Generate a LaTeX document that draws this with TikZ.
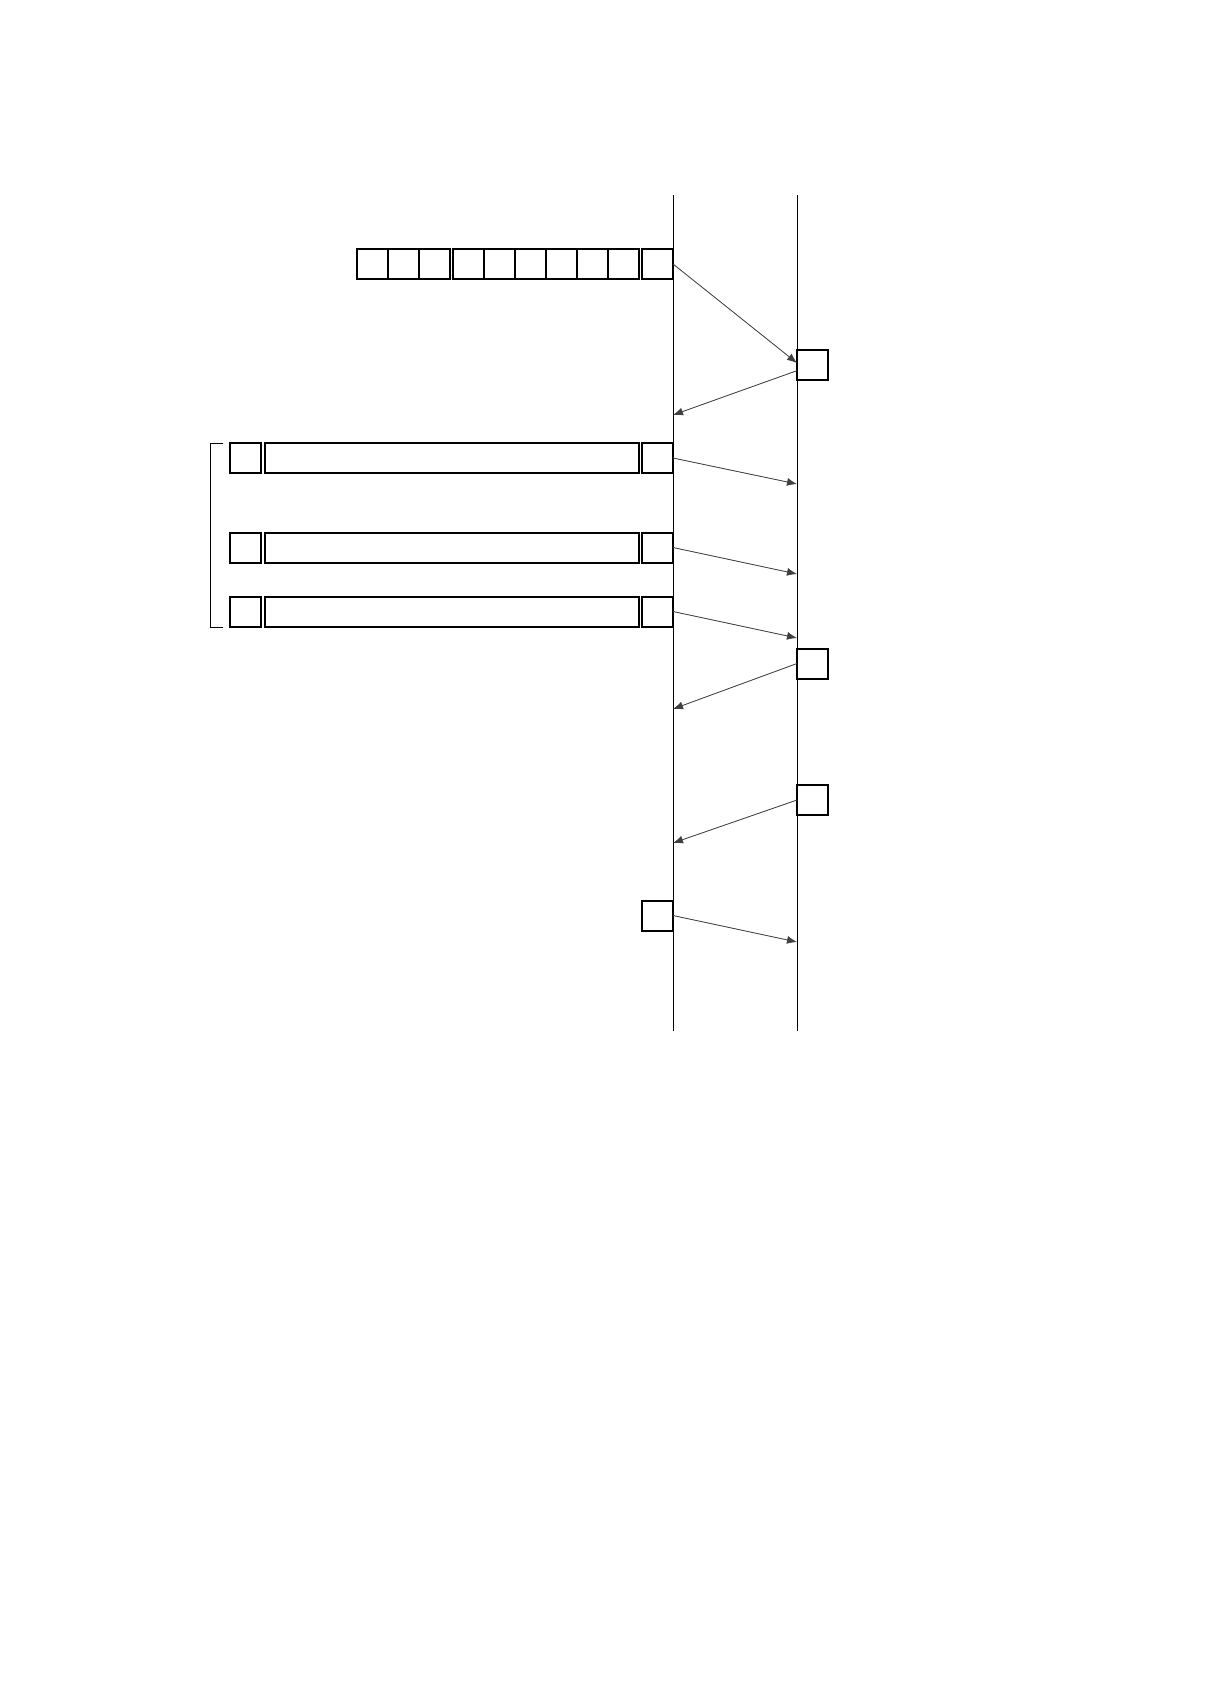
\documentclass[tikz,border=0pt]{standalone}
\usepackage{tikz}
\usetikzlibrary{arrows.meta}
\tikzstyle{cell} = [rectangle, minimum width=15.5pt, minimum height=15pt, inner sep=0pt, outer sep=0pt, draw=black, line width=1pt]
\tikzstyle{longbar} = [cell, minimum width=187pt]
\tikzstyle{lifeline} = [line width=0.5pt]
\tikzstyle{arrow} = [->, >={Latex[length=5pt,width=4pt]}, line width=0.4pt, draw=black!75, fill=black]

\begin{document}
\begin{tikzpicture}[x=0.5pt, y=-0.5pt]
        \useasboundingbox (0,0) rectangle (1224,1682);

        \coordinate (Ltop) at (673,195); \coordinate (Lbot) at (673,1031);
        \coordinate (Rtop) at (797,195); \coordinate (Rbot) at (797,1031);
        \draw[lifeline] (Ltop) -- (Lbot);
        \draw[lifeline] (Rtop) -- (Rbot);

        \foreach \x [count=\i] in {372.5,403.5,434.5,468.5,499.5,530.5,561.5,592.5,623.5,657.5}
            \draw (\x,264) node[cell] (c\i) {};

        \foreach \y [count=\i] in {458,547.5,611.5} {
            \draw (245.5,\y) node[cell] (bl\i) {} (452,\y) node[longbar] (bm\i) {} (657.5,\y) node[cell] (br\i) {};
        }

        \draw (812.5,365) node[cell] (r1) {} (812.5,663.5) node[cell] (r2) {} (812.5,800) node[cell] (r3) {};
        \draw (657.5,915.5) node[cell] (lb) {};

        \coordinate (e1) at (797,363);
        \coordinate (e2) at (673,415);
        \coordinate (e3) at (797,484);
        \coordinate (e4) at (797,574);
        \coordinate (e5) at (797,638);
        \coordinate (e6) at (673,709);
        \coordinate (e7) at (673,843);
        \coordinate (e8) at (797,942);

        \draw[arrow] (c10.east) -- (e1);
        \draw[arrow] (r1.200) -- (e2);
        \draw[arrow] (br1.east) -- (e3);
        \draw[arrow] (br2.east) -- (e4);
        \draw[arrow] (br3.east) -- (e5);
        \draw[arrow] (r2.west) -- (e6);
        \draw[arrow] (r3.west) -- (e7);
        \draw[arrow] (lb.east) -- (e8);

        \draw[line width=0.5pt] (223,443) -- (210,443) -- (210,627) -- (223,627);
    \end{tikzpicture}
\end{document}
